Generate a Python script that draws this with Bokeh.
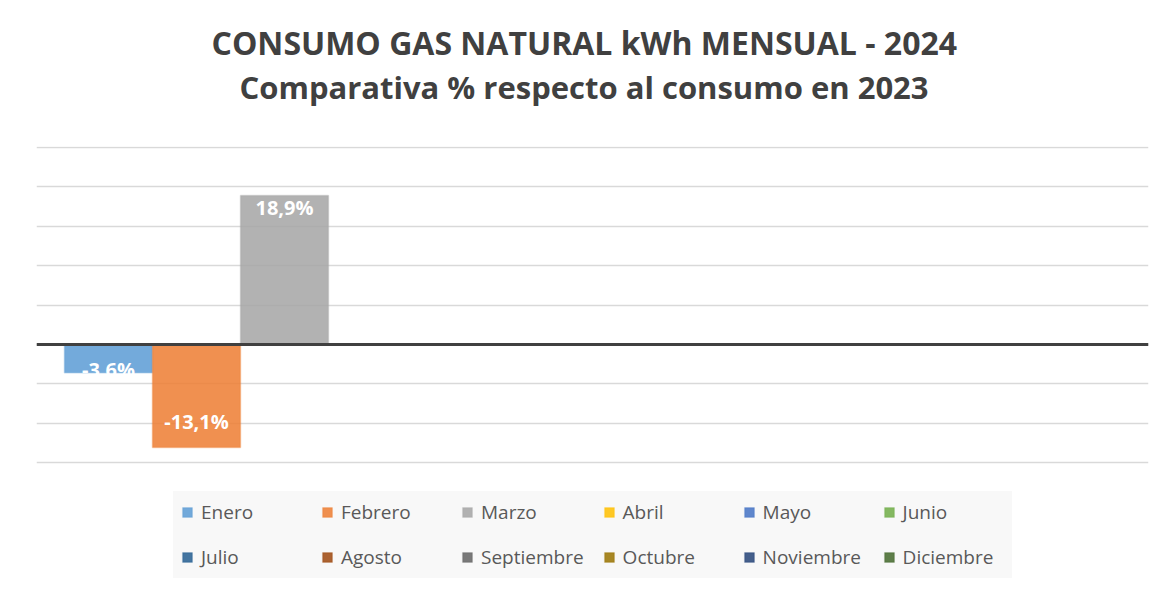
import numpy as np
from bokeh.plotting import figure
from bokeh.models import ColumnDataSource, Span, Title, Legend, LegendItem, FixedTicker, Range1d
from bokeh.embed import file_html
from bokeh.resources import INLINE
from bokeh.core.properties import value

title_line1 = "CONSUMO GAS NATURAL kWh MENSUAL - 2024"
title_line2 = "Comparativa % respecto al consumo en 2023"

months = ["Enero", "Febrero", "Marzo", "Abril", "Mayo", "Junio",
          "Julio", "Agosto", "Septiembre", "Octubre", "Noviembre", "Diciembre"]
values = [-3.6, -13.1, 18.9]          # only Enero..Marzo have data
value_labels = ["-3,6%", "-13,1%", "18,9%"]
colors = ["#5B9BD5", "#ED7D31", "#A5A5A5", "#FFC000", "#4472C4", "#70AD47",
          "#255E91", "#9E480E", "#636363", "#997300", "#264478", "#43682B"]
y_ticks = [-15, -10, -5, 0, 5, 10, 15, 20, 25]

label_offsets = [-3, -26, 12]   # style: pixel offsets of data labels

FONT = "Open Sans"

# frame spans from the top gridline down to the canvas bottom (legend area below the grid)
PX_PER_UNIT = 7.875
LEGEND_AREA_PX = 127

p = figure(width=1162, height=590, output_backend="svg", toolbar_location=None,
           x_range=Range1d(-0.818, 11.818),
           y_range=Range1d(y_ticks[0] - 0.13 - LEGEND_AREA_PX / PX_PER_UNIT, y_ticks[-1] + 0.13),
           min_border_left=36, min_border_right=14, min_border_top=146,
           min_border_bottom=0)
p.axis.visible = False
p.xgrid.visible = False
p.ygrid.ticker = FixedTicker(ticks=y_ticks)
p.ygrid.grid_line_color = "#d9d9d9"
p.ygrid.grid_line_width = 1.5
p.outline_line_color = None
p.background_fill_color = "white"
p.border_fill_color = "white"

items = []
for i, m in enumerate(months):
    top = values[i] if i < len(values) else np.nan   # months without data: no bar
    src = ColumnDataSource(data=dict(x=np.array([float(i)]), top=np.array([top])))
    r = p.vbar(x="x", top="top", bottom=0, width=1.0, source=src,
               fill_color=colors[i], fill_alpha=0.85,
               line_color=colors[i], line_alpha=0.35, line_width=1.5)
    items.append(LegendItem(label=m, renderers=[r], index=0))

p.add_layout(Span(location=0, dimension="width", line_color="#404040", line_width=3))

lab_src = ColumnDataSource(data=dict(x=list(range(len(values))), y=values,
                                     t=value_labels, off=label_offsets))
p.text(x="x", y="y", text="t", y_offset="off", source=lab_src,
       text_color="white", text_font=value(FONT), text_font_style="bold",
       text_font_size="20px", text_align="center", text_baseline="middle")

legend = Legend(items=items, location=(137, 12), orientation="horizontal", ncols=6,
                label_text_font=FONT, label_text_font_size="19px",
                label_text_color="#595959", glyph_width=12, glyph_height=12,
                label_standoff=8, label_width=101, label_height=26,
                spacing=19, padding=8, margin=0,
                background_fill_color="#f8f8f8", background_fill_alpha=1.0,
                border_line_alpha=0)
p.add_layout(legend)

# spacer between the plot area and the two title lines
spacer = Title(text=" ", text_font_size="1px", standoff=36)
t2 = Title(text=title_line2, align="left", offset=203, text_font=FONT, text_font_style="bold",
           text_font_size="31px", text_color="#404040", standoff=0)
t1 = Title(text=title_line1, align="left", offset=175, text_font=FONT, text_font_style="bold",
           text_font_size="32px", text_color="#404040", standoff=0)
p.add_layout(spacer, "above")
p.add_layout(t2, "above")
p.add_layout(t1, "above")

open("out.html", "w").write(file_html(p, INLINE))
